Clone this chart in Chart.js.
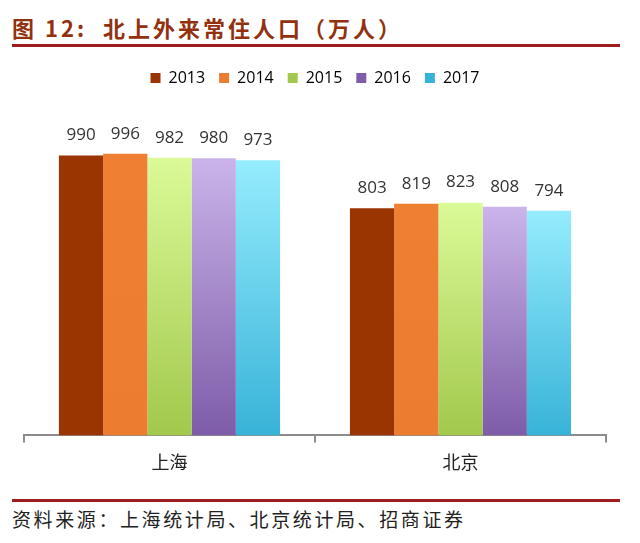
<!DOCTYPE html>
<html>
<head>
<meta charset="utf-8">
<script src="https://cdn.jsdelivr.net/npm/chart.js@4/dist/chart.umd.min.js"></script>
<style>
  body { margin: 0; background: #fff; width: 640px; height: 543px; position: relative; overflow: hidden; }
  .title { position: absolute; left: 12px; top: 11px; font: bold 22px "Noto Sans CJK SC", sans-serif; color: #93310f; letter-spacing: 3px; white-space: nowrap; }
  .rule { position: absolute; left: 12px; width: 608px; height: 3px; background: #a01c1c; }
  .source { position: absolute; left: 12px; top: 505px; font: 19px "Noto Sans CJK SC", sans-serif; color: #222; letter-spacing: 2.6px; white-space: nowrap; }
  #wrap { position: absolute; left: 0; top: 52px; width: 640px; height: 440px; }
</style>
</head>
<body>
<div class="title">图 12:&nbsp; 北上外来常住人口（万人）</div>
<div class="rule" style="top:44px"></div>
<div id="wrap"><canvas id="myChart"></canvas></div>
<div class="rule" style="top:499px"></div>
<div class="source">资料来源：上海统计局、北京统计局、招商证券</div>
<script>
// Data
var cities = ['上海', '北京'];
var years = ['2013', '2014', '2015', '2016', '2017'];
var v2013 = [990, 803];
var v2014 = [996, 819];
var v2015 = [982, 823];
var v2016 = [980, 808];
var v2017 = [973, 794];

// Colours: [top, bottom] of each bar
var colours = [
    ['#9a3400', '#9a3400'],
    ['#ee7f33', '#ec7c30'],
    ['#dbfa98', '#a2c84c'],
    ['#cab4ea', '#7e5ca8'],
    ['#95ecfd', '#38b3d8']
];

function barFill(i) {
    return function(context) {
        var chart = context.chart;
        if (!chart.chartArea || context.raw === undefined) return colours[i][1];
        var y = chart.scales.y;
        var top = y.getPixelForValue(context.raw);
        var bottom = y.getPixelForValue(0);
        var g = chart.ctx.createLinearGradient(0, top, 0, bottom);
        g.addColorStop(0, colours[i][0]);
        g.addColorStop(1, colours[i][1]);
        return g;
    };
}

var series = [v2013, v2014, v2015, v2016, v2017];
var datasets = series.map(function(values, i) {
    return {
        label: years[i],
        data: values,
        backgroundColor: barFill(i),
        borderWidth: 0,
        barPercentage: 1,
        categoryPercentage: 0.76
    };
});

// Value labels above the bars
var valueLabels = {
    id: 'valueLabels',
    afterDatasetsDraw: function(chart) {
        var ctx = chart.ctx;
        ctx.save();
        ctx.font = '17px "Open Sans", sans-serif';
        ctx.fillStyle = '#333';
        ctx.textAlign = 'center';
        ctx.textBaseline = 'middle';
        chart.data.datasets.forEach(function(ds, i) {
            chart.getDatasetMeta(i).data.forEach(function(bar, j) {
                ctx.fillText(ds.data[j], bar.x, bar.y - 20);
            });
        });
        ctx.restore();
    }
};

var ctx = document.getElementById('myChart').getContext('2d');
var myChart = new Chart(ctx, {
    type: 'bar',
    data: { labels: cities, datasets: datasets },
    plugins: [valueLabels],
    options: {
        responsive: true,
        maintainAspectRatio: false,
        animation: false,
        layout: { padding: { left: 24, right: 34, top: 4, bottom: 10 } },
        plugins: {
            tooltip: { enabled: false },
            legend: {
                position: 'top',
                labels: {
                    boxWidth: 10,
                    boxHeight: 10,
                    padding: 14,
                    color: '#333',
                    font: { family: '"Open Sans", sans-serif', size: 16 },
                    generateLabels: function(chart) {
                        return years.map(function(y, i) {
                            return {
                                text: y,
                                fillStyle: colours[i][1],
                                strokeStyle: colours[i][1],
                                lineWidth: 0,
                                datasetIndex: i
                            };
                        });
                    }
                }
            }
        },
        scales: {
            x: {
                grid: {
                    offset: true,
                    drawOnChartArea: false,
                    drawTicks: true,
                    tickLength: 7,
                    color: '#8c8c8c',
                    lineWidth: 2
                },
                border: { display: true, color: '#8c8c8c', width: 2 },
                ticks: {
                    color: '#222',
                    padding: 9,
                    font: { family: '"Noto Sans CJK SC", sans-serif', size: 18 }
                }
            },
            y: {
                display: false,
                min: 0,
                max: 1200
            }
        }
    }
});
</script>
</body>
</html>
